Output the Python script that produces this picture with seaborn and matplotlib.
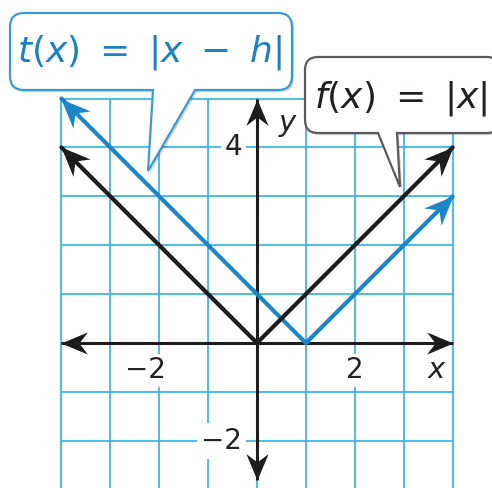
import numpy as np
import pandas as pd
import seaborn as sns
import matplotlib
matplotlib.use("Agg")
import matplotlib.pyplot as plt
from matplotlib.path import Path
from matplotlib.patches import PathPatch
from matplotlib.markers import MarkerStyle
from matplotlib.transforms import Affine2D
import matplotlib.patheffects as pe

# ---- data ----
f_x = [-4, 0, 4]
f_vals = [4, 0, 4]
t_x = [-4, 1, 4]
t_vals = [5, 0, 3]
x_tick_vals = [-2, 2]
x_tick_labels = ["\u22122", "2"]
y_tick_vals = [4, -2]
y_tick_labels = ["4", "\u22122"]
x_axis_span = [-4, 4]
y_axis_span = [-2.8, 5.0]
grid_x = list(range(-4, 5))
grid_y = list(range(-3, 6))
t_label = r"$t(x)\ =\ |x\ -\ h|$"
f_label = r"$f(x)\ =\ |x|$"

# ---- style ----
sns.set_theme(style="white")
plt.rcParams["font.family"] = ["DejaVu Sans"]
plt.rcParams["mathtext.fontset"] = "dejavusans"

BLACK = "#1c1c1c"
BLUE = "#1b85c8"
GRID = "#36b2ea"

W, H = 492, 488
U = 48.9
X0, Y0 = 257, 343

def fx(px):
    return px / W

def fy(py):
    return (H - py) / H

fig = plt.figure(figsize=(W / 100, H / 100), dpi=100)
fig.patch.set_facecolor("white")

xlim = (-4.3, 4.3)
ylim = (-3.05, 5.3)
left_px = X0 + xlim[0] * U
right_px = X0 + xlim[1] * U
top_px = Y0 - ylim[1] * U
bot_px = Y0 - ylim[0] * U
ax = fig.add_axes([fx(left_px), fy(bot_px), (right_px - left_px) / W, (bot_px - top_px) / H])
ax.set_xlim(xlim)
ax.set_ylim(ylim)
ax.set_axis_off()

# grid
ax.vlines(grid_x, ylim[0], max(grid_y), color=GRID, lw=1.25, zorder=1)
ax.hlines(grid_y, min(grid_x), max(grid_x), color=GRID, lw=1.25, zorder=1)

# arrowhead marker (concave "stealth" shape, tip at origin)
head = Path([(0, 0), (-1, 0.42), (-0.68, 0), (-1, -0.42), (0, 0)],
            [Path.MOVETO, Path.LINETO, Path.LINETO, Path.LINETO, Path.CLOSEPOLY])

def arrowhead(x, y, xprev, yprev, color, size, z):
    ang = np.degrees(np.arctan2(y - yprev, x - xprev))
    ms = MarkerStyle(head, transform=Affine2D().rotate_deg(ang))
    ax.plot([x], [y], marker=ms, markersize=size, color=color, mew=0, zorder=z)

# axes
ax.plot(x_axis_span, [0, 0], color=BLACK, lw=2.2, zorder=4, solid_capstyle="butt")
ax.plot([0, 0], y_axis_span, color=BLACK, lw=2.2, zorder=4, solid_capstyle="butt")
arrowhead(x_axis_span[0], 0, 0, 0, BLACK, 38, 4)
arrowhead(x_axis_span[1], 0, 0, 0, BLACK, 38, 4)
arrowhead(0, y_axis_span[0], 0, 0, BLACK, 38, 4)
arrowhead(0, y_axis_span[1], 0, 0, BLACK, 38, 4)

# functions
sns.lineplot(x=t_x, y=t_vals, color=BLUE, lw=3.0, ax=ax, sort=False, estimator=None, zorder=5)
sns.lineplot(x=f_x, y=f_vals, color=BLACK, lw=3.0, ax=ax, sort=False, estimator=None, zorder=6)
arrowhead(t_x[0], t_vals[0], t_x[1], t_vals[1], BLUE, 42, 5)
arrowhead(t_x[-1], t_vals[-1], t_x[-2], t_vals[-2], BLUE, 42, 5)
arrowhead(f_x[0], f_vals[0], f_x[1], f_vals[1], BLACK, 42, 6)
arrowhead(f_x[-1], f_vals[-1], f_x[-2], f_vals[-2], BLACK, 42, 6)

# tick labels
for v, lab in zip(x_tick_vals, x_tick_labels):
    off = -0.29 if lab.startswith("\u2212") else 0.0
    ax.text(v + off, -0.56, lab, ha="center", va="center", fontsize=20, color="#222222",
            zorder=3, bbox=dict(fc="white", ec="none", pad=2))
for v, lab in zip(y_tick_vals, y_tick_labels):
    ax.text(-0.3, v, lab, ha="right", va="center", fontsize=20, color="#222222",
            zorder=3, bbox=dict(fc="white", ec="none", pad=3))
ax.text(3.67, -0.56, "x", ha="center", va="center", fontsize=21, style="italic", color="#222222", zorder=3)
ax.text(0.62, 4.5, "y", ha="center", va="center", fontsize=21, style="italic", color="#222222", zorder=3)

# speech bubbles
def bubble(x0, y0, x1, y1, r, ta, tb, tip):
    pts = [
        ((x0 + r, y0), Path.MOVETO),
        ((x1 - r, y0), Path.LINETO),
        ((x1, y0), Path.CURVE3), ((x1, y0 + r), Path.CURVE3),
        ((x1, y1 - r), Path.LINETO),
        ((x1, y1), Path.CURVE3), ((x1 - r, y1), Path.CURVE3),
        ((tb, y1), Path.LINETO),
        (tip, Path.LINETO),
        ((ta, y1), Path.LINETO),
        ((x0 + r, y1), Path.LINETO),
        ((x0, y1), Path.CURVE3), ((x0, y1 - r), Path.CURVE3),
        ((x0, y0 + r), Path.LINETO),
        ((x0, y0), Path.CURVE3), ((x0 + r, y0), Path.CURVE3),
        ((x0 + r, y0), Path.CLOSEPOLY),
    ]
    verts = [(fx(p[0]), fy(p[1])) for p, _ in pts]
    codes = [c for _, c in pts]
    return Path(verts, codes)

shadow = [pe.SimplePatchShadow(offset=(1.5, -1.5), alpha=0.25), pe.Normal()]
pt = PathPatch(bubble(10, 13, 292, 90, 14, 153, 195, (148, 171)), transform=fig.transFigure,
               fc="white", ec="#3b98d6", lw=1.6, zorder=10, path_effects=shadow)
fig.add_artist(pt)
pf = PathPatch(bubble(305, 57, 500, 133, 13, 378, 397, (400, 187)), transform=fig.transFigure,
               fc="white", ec="#5a5a5a", lw=1.6, zorder=10, path_effects=shadow)
fig.add_artist(pf)

fig.text(fx(150), fy(53), t_label, ha="center", va="center", fontsize=26, color="#1d80c3", zorder=11)
fig.text(fx(401), fy(99), f_label, ha="center", va="center", fontsize=26, color="#231f20", zorder=11)

fig.savefig("out.png", dpi=100, facecolor="white")
